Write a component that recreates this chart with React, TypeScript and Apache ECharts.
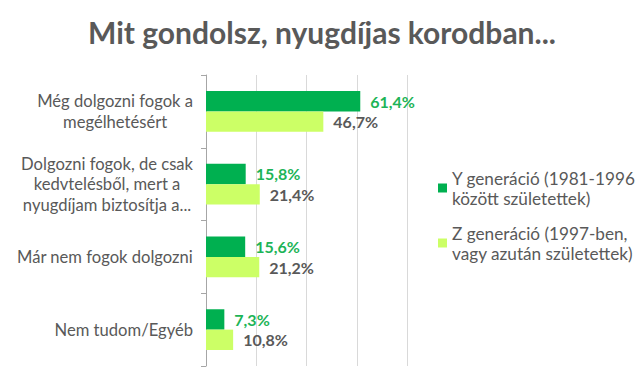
import React, { useEffect, useRef } from "react";
import * as echarts from "echarts";

const categories = [
  "Még dolgozni fogok a\nmegélhetésért",
  "Dolgozni fogok, de csak\nkedvtelésből, mert a\nnyugdíjam biztosítja a...",
  "Már nem fogok dolgozni",
  "Nem tudom/Egyéb",
];
const seriesNames = [
  "Y generáció (1981-1996\nközött születettek)",
  "Z generáció (1997-ben,\nvagy azután születettek)",
];
const yValues = [61.4, 15.8, 15.6, 7.3];
const zValues = [46.7, 21.4, 21.2, 10.8];
const titleText = "Mit gondolsz, nyugdíjas korodban...";

const FONT = "Lato, 'Open Sans', sans-serif";
const GRAY = "#595959";
const DARK_GREEN = "#00b050";
const LIGHT_GREEN = "#ccff66";

const fmt = (v: number) => v.toFixed(1).replace(".", ",") + "%";

export default function App() {
  const ref = useRef<HTMLDivElement>(null);
  useEffect(() => {
    if (!ref.current) return;
    const chart = echarts.init(ref.current, undefined, { renderer: "svg" });
    chart.setOption({
      animation: false,
      backgroundColor: "#ffffff",
      title: {
        text: titleText,
        left: "center",
        top: 12,
        textStyle: { fontFamily: FONT, fontSize: 30, fontWeight: "bold", color: GRAY },
      },
      legend: {
        orient: "vertical",
        left: 433,
        top: 153,
        itemGap: -5,
        itemWidth: 9,
        itemHeight: 9,
        icon: "rect",
        textStyle: {
          fontFamily: FONT,
          fontSize: 17.2,
          color: GRAY,
          lineHeight: 20,
          padding: [20, 0, 0, 0],
        },
        data: seriesNames,
      },
      grid: { left: 206, right: 237, top: 75, bottom: 20, containLabel: false },
      xAxis: {
        type: "value",
        min: 0,
        max: 80,
        interval: 20,
        axisLabel: { show: false },
        axisLine: { show: false },
        axisTick: { show: false },
        splitLine: { show: true, lineStyle: { color: "#d9d9d9", width: 1 } },
      },
      yAxis: {
        type: "category",
        inverse: true,
        data: categories,
        axisLine: { show: true, lineStyle: { color: "#a6a6a6", width: 1 } },
        axisTick: { show: true, length: 5, lineStyle: { color: "#a6a6a6" } },
        axisLabel: {
          margin: 13,
          align: "right",
          formatter: (v: string) => `{a|${v}}`,
          rich: {
            a: {
              align: "center",
              fontFamily: FONT,
              fontSize: 16.6,
              lineHeight: 20.5,
              color: GRAY,
            },
          },
        },
      },
      series: [
        {
          name: seriesNames[0],
          type: "bar",
          data: yValues,
          barGap: "0%",
          barCategoryGap: "44%",
          itemStyle: { color: DARK_GREEN },
          label: {
            show: true,
            position: "right",
            distance: 10,
            formatter: (p: any) => fmt(p.value),
            fontFamily: FONT,
            fontSize: 16,
            fontWeight: "bold",
            color: "#1db457",
          },
        },
        {
          name: seriesNames[1],
          type: "bar",
          data: zValues,
          barGap: "0%",
          barCategoryGap: "44%",
          itemStyle: { color: LIGHT_GREEN },
          label: {
            show: true,
            position: "right",
            distance: 10,
            formatter: (p: any) => fmt(p.value),
            fontFamily: FONT,
            fontSize: 16,
            fontWeight: "bold",
            color: GRAY,
          },
        },
      ],
    });
    return () => chart.dispose();
  }, []);
  return (
    <div
      ref={ref}
      style={{ position: "fixed", left: 0, top: 0, width: 644, height: 386 }}
    />
  );
}
